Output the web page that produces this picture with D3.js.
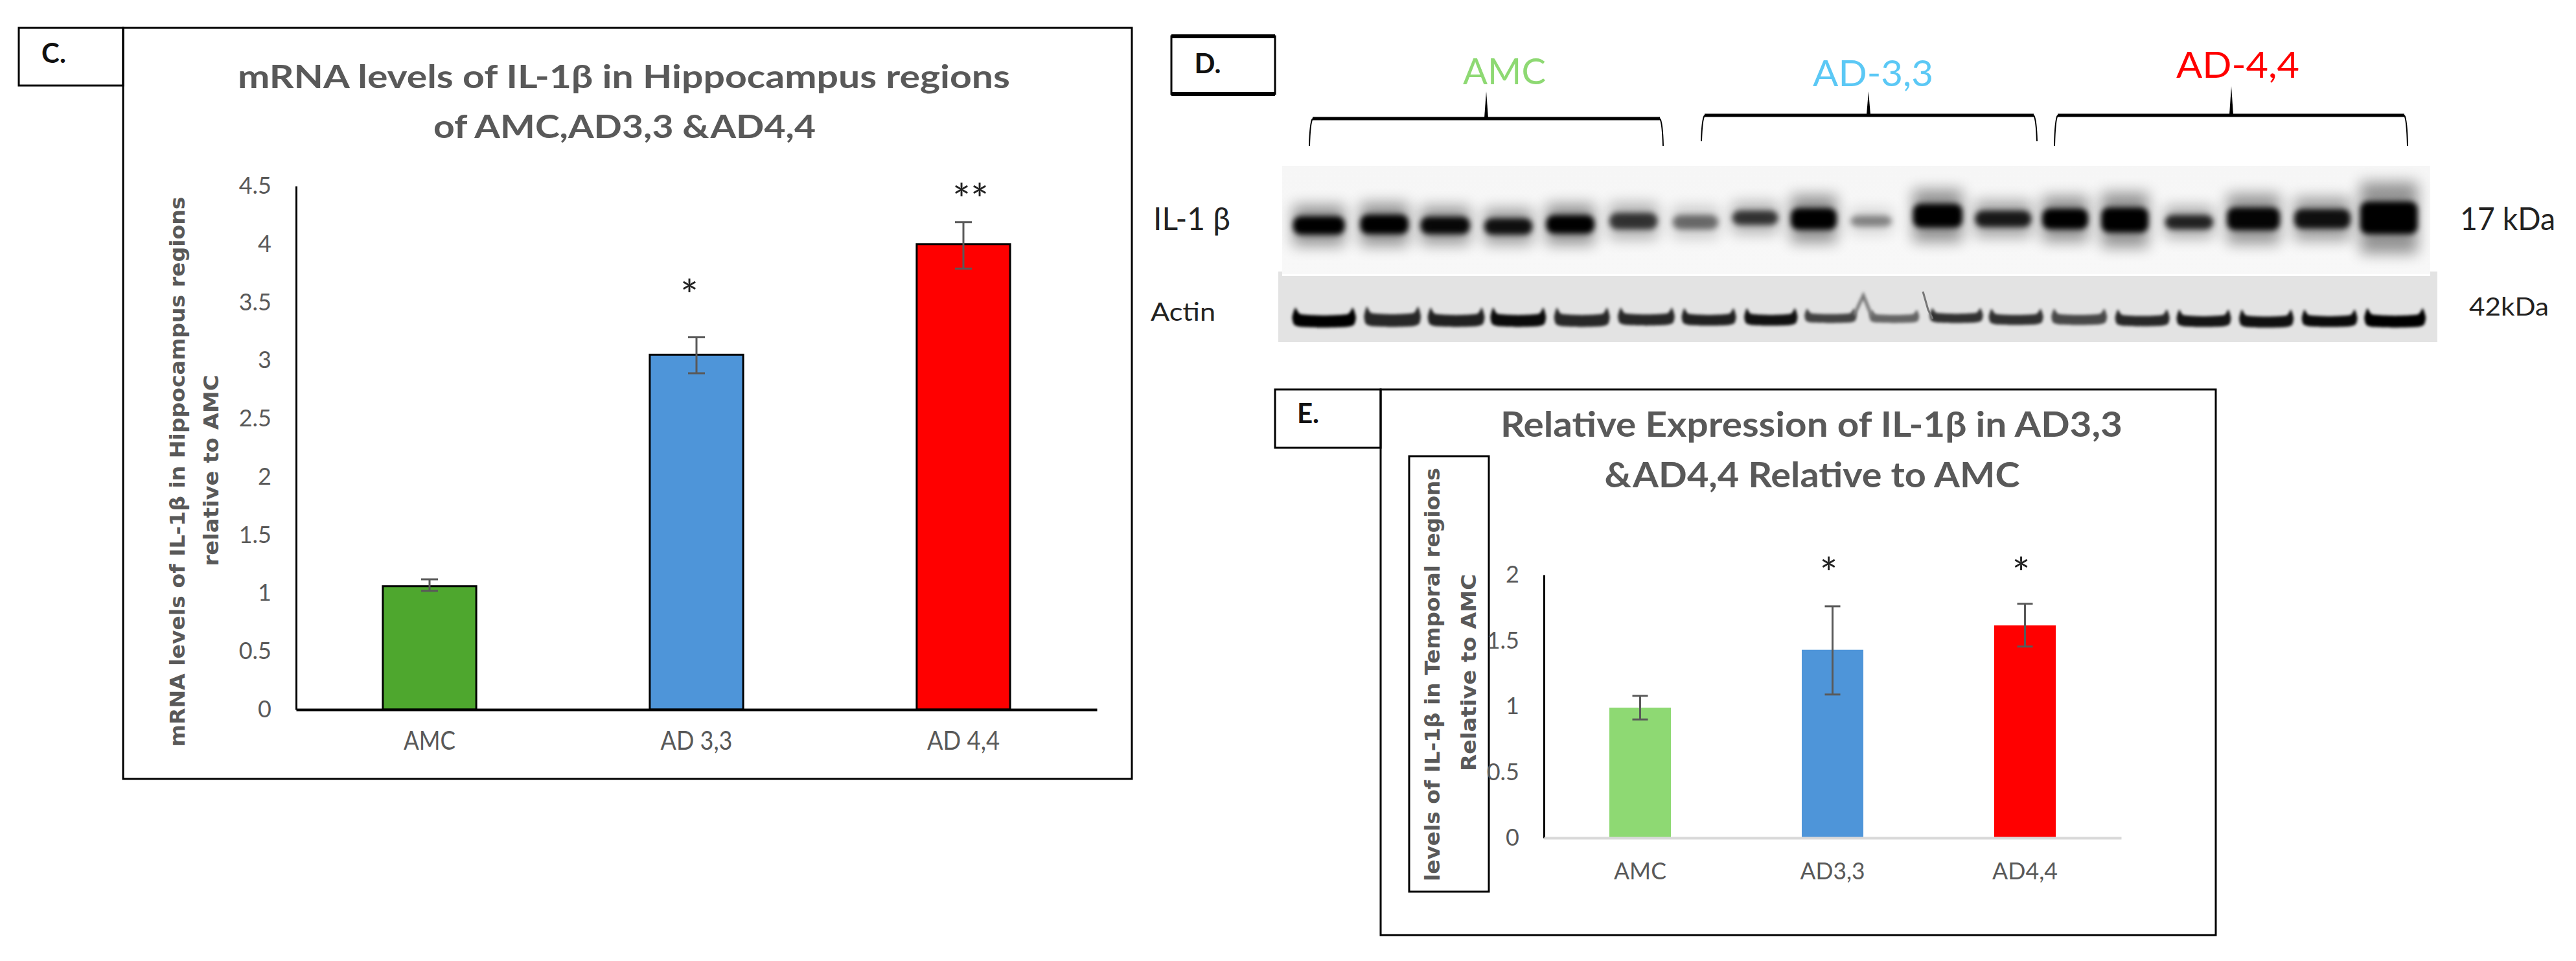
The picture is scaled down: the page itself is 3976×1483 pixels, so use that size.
<!DOCTYPE html>
<html>
<head>
<meta charset="utf-8">
<script src="https://cdnjs.cloudflare.com/ajax/libs/d3/7.8.5/d3.min.js"></script>
<style>
body { margin: 0; background: #fff; }
text { font-family: Lato, sans-serif; }
</style>
</head>
<body>
<div id="my_dataviz"></div>
<script>
// panel C, hippocampus mRNA
var groupsC = ['AMC', 'AD 3,3', 'AD 4,4'];
var valuesC = [1.06, 3.05, 4.0];
var errLowC = [1.02, 2.89, 3.79];
var errHighC = [1.12, 3.20, 4.19];
var starsC = ['', '*', '**'];
var ticksC = [0, 0.5, 1, 1.5, 2, 2.5, 3, 3.5, 4, 4.5];
var coloursC = ['#4ea72e', '#4e95d9', '#ff0000'];

// panel E, temporal protein
var groupsE = ['AMC', 'AD3,3', 'AD4,4'];
var valuesE = [0.99, 1.43, 1.615];
var errLowE = [0.90, 1.09, 1.455];
var errHighE = [1.08, 1.76, 1.78];
var starsE = ['', '*', '*'];
var ticksE = [0, 0.5, 1, 1.5, 2];
var coloursE = ['#8ed973', '#4e95d9', '#ff0000'];

// panel D, IL-1 beta blot, in percent of the blot width / height
var ilCentre = [3.2, 8.9, 14.2, 19.7, 25.1, 30.6, 36, 41.2, 46.3, 51.3, 57.1, 62.8, 68.2, 73.4, 79, 84.6, 90.6, 96.4];
var ilWidth = [4.5, 4.2, 4.3, 4.2, 4.2, 4.2, 4, 4, 4, 3.6, 4.3, 4.9, 4, 4.1, 4.2, 4.6, 4.9, 5];
var ilMid = [55, 54, 55, 56, 54, 51, 52, 48, 49, 51, 46, 49, 49, 50, 52, 49, 49, 48];
var ilThick = [17, 18, 16, 15, 17, 15, 13, 13, 20, 10, 22, 15, 19, 23, 13, 21, 18, 30];
var ilDark = [1, 1, 0.95, 0.9, 1, 0.72, 0.48, 0.72, 1, 0.38, 1, 0.85, 1, 1, 0.8, 0.97, 0.9, 1];

// panel D, actin blot
var acLeft = [1.2, 7.4, 12.9, 18.3, 23.8, 29.3, 34.8, 40.2, 45.4, 51.0, 56.2, 61.3, 66.7, 72.2, 77.5, 82.9, 88.3, 93.7];
var acRight = [6.7, 12.3, 17.8, 23.1, 28.6, 34.2, 39.5, 44.8, 49.9, 55.3, 60.8, 66.0, 71.5, 76.9, 82.2, 87.6, 93.1, 99.0];
var acTop = [46, 44, 46, 46, 46, 46, 47, 47, 48, 50, 47, 48, 48, 49, 49, 49, 49, 47];
var acBottom = [78, 77, 77, 77, 77, 75, 75, 75, 71, 71, 71, 74, 74, 76, 77, 78, 77, 78];
var acDark = [1, 0.82, 0.85, 0.95, 0.82, 0.82, 0.85, 0.92, 0.7, 0.55, 0.78, 0.78, 0.68, 0.82, 0.9, 0.92, 0.95, 1];
var actinShape = [[0, 0.5], [0.05, 0.06], [0.13, 0.36], [0.5, 0.42], [0.87, 0.36], [0.95, 0.06], [1, 0.5], [0.97, 0.86], [0.85, 0.97], [0.5, 1], [0.15, 0.97], [0.03, 0.86]];

var svg = d3.select('#my_dataviz')
.append('svg')
.attr('width', 3976)
.attr('height', 1483)
.style('display', 'block');

var defs = svg.append('defs');
[['blurCore', 4], ['blurHalo', 11], ['blurActin', 2]].forEach(function(b) {
  defs.append('filter')
  .attr('id', b[0])
  .attr('x', '-60%').attr('y', '-120%').attr('width', '220%').attr('height', '340%')
  .append('feGaussianBlur')
  .attr('stdDeviation', b[1]);
});

function box(x0, y0, x1, y1, w) {
  svg.append('rect')
  .attr('x', x0).attr('y', y0)
  .attr('width', x1 - x0).attr('height', y1 - y0)
  .attr('fill', 'none')
  .attr('stroke', 'black')
  .attr('stroke-width', w || 3);
}

function label(str, x, y, size, len, o) {
  o = o || {};
  var t = svg.append('text')
  .attr('x', x).attr('y', y)
  .attr('font-size', size)
  .attr('text-anchor', o.anchor || 'middle')
  .attr('font-weight', o.weight || 'normal')
  .attr('fill', o.fill || '#595959')
  .text(str);
  if (o.family) t.style('font-family', o.family);
  if (len) t.attr('textLength', len).attr('lengthAdjust', 'spacingAndGlyphs');
  if (o.rotate) t.attr('transform', 'rotate(-90,' + x + ',' + y + ')');
  return t;
}

function barPanel(p) {
  var x = d3.scaleBand()
  .domain(p.groups)
  .range([p.left, p.right])
  .paddingInner(p.pad)
  .paddingOuter(p.pad / 2);

  var y = d3.scaleLinear()
  .domain([0, p.max])
  .range([p.bottom, p.top]);

  svg.selectAll()
  .data(p.values)
  .enter()
  .append('rect')
  .attr('x', function(d, i) {return x(p.groups[i])})
  .attr('y', function(d) {return y(d)})
  .attr('width', x.bandwidth())
  .attr('height', function(d) {return y(0) - y(d)})
  .attr('fill', function(d, i) {return p.colours[i]})
  .attr('stroke', p.barStroke)
  .attr('stroke-width', p.barStroke == 'none' ? 0 : 3);

  var yAxis = svg.append('g')
  .attr('transform', 'translate(' + p.left + ',0)')
  .call(d3.axisLeft(y).tickValues(p.ticks).tickSize(0).tickPadding(p.tickPad).tickFormat(function(d) {return String(d)}));
  yAxis.select('.domain').attr('stroke', 'black').attr('stroke-width', 3);
  yAxis.selectAll('text')
  .style('font-family', 'Lato, sans-serif')
  .attr('font-size', 36)
  .attr('fill', '#595959');

  var xAxis = svg.append('g')
  .attr('transform', 'translate(0,' + p.bottom + ')')
  .call(d3.axisBottom(x).tickSize(0).tickPadding(p.xPad));
  xAxis.select('.domain').attr('stroke', p.baseColour).attr('stroke-width', 4);
  xAxis.selectAll('text')
  .style('font-family', 'Lato, sans-serif')
  .attr('font-size', p.xSize)
  .attr('fill', '#595959')
  .attr('textLength', function(d, i) {return p.xLen[i]})
  .attr('lengthAdjust', 'spacingAndGlyphs');

  // error bars
  var errs = svg.append('g')
  .attr('stroke', '#595959')
  .attr('stroke-width', 3)
  .selectAll('path')
  .data(p.values)
  .enter()
  .append('path')
  .attr('fill', 'none')
  .attr('d', function(d, i) {
    var cx = x(p.groups[i]) + x.bandwidth() / 2;
    var c = p.cap;
    return 'M' + (cx - c) + ',' + y(p.errHigh[i]) + 'H' + (cx + c) +
      'M' + cx + ',' + y(p.errHigh[i]) + 'V' + y(p.errLow[i]) +
      'M' + (cx - c) + ',' + y(p.errLow[i]) + 'H' + (cx + c);
  });

  svg.selectAll()
  .data(p.stars)
  .enter()
  .append('text')
  .attr('x', function(d, i) {return x(p.groups[i]) + x.bandwidth() / 2 + p.starDx[i]})
  .attr('y', function(d, i) {return y(p.errHigh[i]) - p.starGap[i]})
  .attr('text-anchor', 'middle')
  .attr('font-size', 66)
  .attr('fill', '#222')
  .text(function(d) {return d});
}

// C
box(29, 43, 190, 132);
box(190, 43, 1747, 1202);
label('C.', 83, 97, 42, 0, {weight: 'bold', fill: '#111'});
label('mRNA levels of IL-1β in Hippocampus regions', 963, 136, 50, 1192, {weight: 'bold'});
label('of AMC,AD3,3 &AD4,4', 964, 213, 50, 590, {weight: 'bold'});
label('mRNA levels of IL-1β in Hippocampus regions', 285, 728, 32, 849, {weight: 'bold', rotate: true, family: 'DejaVu Sans'});
label('relative to AMC', 337, 726, 32, 295, {weight: 'bold', rotate: true, family: 'DejaVu Sans'});

barPanel({
  groups: groupsC, values: valuesC, errLow: errLowC, errHigh: errHighC, stars: starsC,
  ticks: ticksC, colours: coloursC, max: 4.5,
  left: 457, right: 1693, top: 287, bottom: 1095, pad: 0.65,
  barStroke: 'black', baseColour: 'black', tickPad: 38, xPad: 34, xSize: 40, xLen: [80, 111, 112],
  cap: 13, starDx: [0, -11, 11], starGap: [0, 40, 11]
});

// D
box(1808, 56, 1968, 145);
svg.append('path').attr('d', 'M1808,56H1968M1808,145H1968').attr('stroke', 'black').attr('stroke-width', 6);
label('D.', 1864, 113, 42, 0, {weight: 'bold', fill: '#111'});
label('AMC', 2322, 130, 56, 128, {fill: '#8ed973'});
label('AD-3,3', 2891, 133, 56, 186, {fill: '#5bc8f5'});
label('AD-4,4', 3454, 120, 56, 190, {fill: '#ff0000'});

var brackets = [
  {x0: 2021, x1: 2567, apex: 2294, y: 183, tip: 141, foot: 225},
  {x0: 2626, x1: 3144, apex: 2884, y: 178, tip: 141, foot: 218},
  {x0: 3171, x1: 3716, apex: 3444, y: 178, tip: 133, foot: 225}
];
brackets.forEach(function(b) {
  svg.append('path')
  .attr('fill', 'none').attr('stroke', 'black').attr('stroke-width', 2)
  .attr('d', 'M' + b.x0 + ',' + b.foot + 'Q' + (b.x0 + 1) + ',' + (b.y + 6) + ' ' + (b.x0 + 5) + ',' + b.y +
    'M' + b.x1 + ',' + b.foot + 'Q' + (b.x1 - 1) + ',' + (b.y + 6) + ' ' + (b.x1 - 5) + ',' + b.y);
  svg.append('path')
  .attr('fill', 'none').attr('stroke', 'black').attr('stroke-width', 5)
  .attr('d', 'M' + (b.x0 + 5) + ',' + b.y + 'H' + (b.x1 - 5));
  svg.append('path')
  .attr('fill', 'black')
  .attr('d', 'M' + b.apex + ',' + b.tip + 'L' + (b.apex + 3) + ',' + (b.y - 1) + 'H' + (b.apex - 3) + 'Z');
});

var blotX = d3.scaleLinear().domain([0, 100]).range([1979, 3751]);
var blotY = d3.scaleLinear().domain([0, 100]).range([256, 423]);
var actX = d3.scaleLinear().domain([0, 100]).range([1973, 3762]);
var actY = d3.scaleLinear().domain([0, 100]).range([426, 528]);

var fade = defs.append('linearGradient').attr('id', 'blotBg').attr('x1', 0).attr('x2', 0).attr('y1', 0).attr('y2', 1);
fade.append('stop').attr('offset', '0%').attr('stop-color', '#f6f6f6');
fade.append('stop').attr('offset', '100%').attr('stop-color', '#f8f8f8');

svg.append('rect')
.attr('x', blotX(0)).attr('y', blotY(0))
.attr('width', blotX(100) - blotX(0)).attr('height', blotY(100) - blotY(0))
.attr('fill', 'url(#blotBg)');

var ilClip = defs.append('clipPath').attr('id', 'ilClip');
ilClip.append('rect')
.attr('x', blotX(0)).attr('y', blotY(0))
.attr('width', blotX(100) - blotX(0)).attr('height', blotY(100) - blotY(0));

var ilG = svg.append('g').attr('clip-path', 'url(#ilClip)');
ilG.selectAll()
.data(ilCentre)
.enter()
.append('rect')
.attr('x', function(d, i) {return blotX(d - ilWidth[i] / 2)})
.attr('width', function(d, i) {return blotX(ilWidth[i]) - blotX(0)})
.attr('y', function(d, i) {return blotY(ilMid[i] - ilThick[i] * 1.1)})
.attr('height', function(d, i) {return blotY(ilThick[i] * 2.2) - blotY(0)})
.attr('fill', 'black')
.attr('opacity', function(d, i) {return 0.4 * ilDark[i]})
.attr('filter', 'url(#blurHalo)');

ilG.selectAll()
.data(ilCentre)
.enter()
.append('rect')
.attr('x', function(d, i) {return blotX(d - ilWidth[i] / 2)})
.attr('width', function(d, i) {return blotX(ilWidth[i]) - blotX(0)})
.attr('y', function(d, i) {return blotY(ilMid[i] - ilThick[i] / 2)})
.attr('height', function(d, i) {return blotY(ilThick[i]) - blotY(0)})
.attr('rx', 12)
.attr('fill', 'black')
.attr('opacity', function(d, i) {return ilDark[i]})
.attr('filter', 'url(#blurCore)');

svg.append('rect')
.attr('x', actX(0)).attr('y', actY(0) - 7)
.attr('width', 6).attr('height', 7)
.attr('fill', '#e3e3e3');
svg.append('rect')
.attr('x', actX(100) - 11).attr('y', actY(0) - 7)
.attr('width', 11).attr('height', 7)
.attr('fill', '#e3e3e3');
svg.append('rect')
.attr('x', actX(0)).attr('y', actY(0))
.attr('width', actX(100) - actX(0)).attr('height', actY(100) - actY(0))
.attr('fill', '#e3e3e3');

var bandLine = d3.line().curve(d3.curveCardinalClosed.tension(0.4));
svg.append('g')
.selectAll('path')
.data(acLeft)
.enter()
.append('path')
.attr('d', function(d, i) {
  var x0 = actX(d), x1 = actX(acRight[i]), y0 = actY(acTop[i]), y1 = actY(acBottom[i]);
  return bandLine(actinShape.map(function(s) {return [x0 + s[0] * (x1 - x0), y0 + s[1] * (y1 - y0)]}));
})
.attr('fill', 'black')
.attr('opacity', function(d, i) {return acDark[i]})
.attr('filter', 'url(#blurActin)');

// the two smears above the actin bands
svg.append('path')
.attr('d', 'M2862,486L2876,456L2889,488')
.attr('fill', 'none').attr('stroke', '#777').attr('stroke-width', 5)
.attr('filter', 'url(#blurActin)');
svg.append('path')
.attr('d', 'M2968,450L2976,478L2983,492')
.attr('fill', 'none').attr('stroke', '#777').attr('stroke-width', 3);

label('IL-1 β', 1780, 355, 48, 119, {anchor: 'start', fill: '#222'});
label('Actin', 1776, 495, 38, 100, {anchor: 'start', fill: '#222'});
label('17 kDa', 3797, 355, 48, 147, {anchor: 'start', fill: '#222'});
label('42kDa', 3811, 487, 38, 123, {anchor: 'start', fill: '#222'});

// E
box(1968, 601, 2131, 691);
box(2131, 601, 3420, 1443);
box(2175, 704, 2298, 1376);
label('E.', 2019, 653, 42, 0, {weight: 'bold', fill: '#111'});
label('Relative Expression of IL-1β in AD3,3', 2796, 674, 54, 960, {weight: 'bold'});
label('&AD4,4 Relative to AMC', 2797, 752, 54, 641, {weight: 'bold'});
label('levels of IL-1β in Temporal regions', 2222, 1041, 32, 638, {weight: 'bold', rotate: true, family: 'DejaVu Sans'});
label('Relative to AMC', 2278, 1038, 32, 304, {weight: 'bold', rotate: true, family: 'DejaVu Sans'});

barPanel({
  groups: groupsE, values: valuesE, errLow: errLowE, errHigh: errHighE, stars: starsE,
  ticks: ticksE, colours: coloursE, max: 2,
  left: 2383, right: 3274, top: 887, bottom: 1293, pad: 0.68,
  barStroke: 'none', baseColour: '#d9d9d9', tickPad: 38, xPad: 38, xSize: 36, xLen: [81, 100, 101],
  cap: 12, starDx: [0, -6, -6], starGap: [0, 27, 23]
});
</script>
</body>
</html>
